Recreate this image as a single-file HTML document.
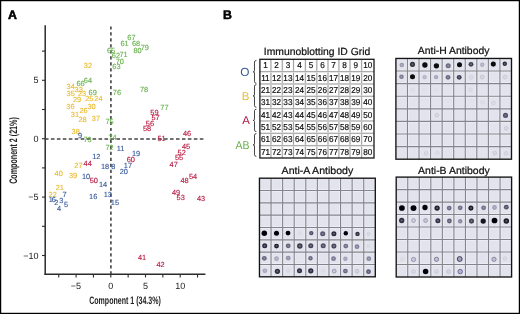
<!DOCTYPE html>
<html><head><meta charset="utf-8"><style>
html,body{margin:0;padding:0;background:#fff;}
body{width:520px;height:314px;overflow:hidden;}
svg{display:block;font-family:"Liberation Sans",sans-serif;will-change:transform;text-rendering:geometricPrecision;}
</style></head><body>
<svg width="520" height="314" viewBox="0 0 520 314">
<defs><filter id="soft" x="-5%" y="-5%" width="110%" height="110%"><feGaussianBlur stdDeviation="0.38"/></filter></defs>
<rect x="0" y="0" width="520" height="314" fill="#fff"/>
<line x1="45.2" y1="25.3" x2="45.2" y2="274.9" stroke="#2b2b2b" stroke-width="1.5"/>
<line x1="44.5" y1="274.2" x2="205.4" y2="274.2" stroke="#2b2b2b" stroke-width="1.5"/>
<line x1="42" y1="255.50" x2="45.2" y2="255.50" stroke="#2b2b2b" stroke-width="1.1"/>
<line x1="42" y1="226.30" x2="45.2" y2="226.30" stroke="#2b2b2b" stroke-width="1.1"/>
<line x1="42" y1="197.10" x2="45.2" y2="197.10" stroke="#2b2b2b" stroke-width="1.1"/>
<line x1="42" y1="167.90" x2="45.2" y2="167.90" stroke="#2b2b2b" stroke-width="1.1"/>
<line x1="42" y1="138.70" x2="45.2" y2="138.70" stroke="#2b2b2b" stroke-width="1.1"/>
<line x1="42" y1="109.50" x2="45.2" y2="109.50" stroke="#2b2b2b" stroke-width="1.1"/>
<line x1="42" y1="80.30" x2="45.2" y2="80.30" stroke="#2b2b2b" stroke-width="1.1"/>
<line x1="42" y1="51.10" x2="45.2" y2="51.10" stroke="#2b2b2b" stroke-width="1.1"/>
<line x1="58.75" y1="274.2" x2="58.75" y2="277.4" stroke="#2b2b2b" stroke-width="1.1"/>
<line x1="76.10" y1="274.2" x2="76.10" y2="277.4" stroke="#2b2b2b" stroke-width="1.1"/>
<line x1="93.45" y1="274.2" x2="93.45" y2="277.4" stroke="#2b2b2b" stroke-width="1.1"/>
<line x1="110.80" y1="274.2" x2="110.80" y2="277.4" stroke="#2b2b2b" stroke-width="1.1"/>
<line x1="128.15" y1="274.2" x2="128.15" y2="277.4" stroke="#2b2b2b" stroke-width="1.1"/>
<line x1="145.50" y1="274.2" x2="145.50" y2="277.4" stroke="#2b2b2b" stroke-width="1.1"/>
<line x1="162.85" y1="274.2" x2="162.85" y2="277.4" stroke="#2b2b2b" stroke-width="1.1"/>
<line x1="180.20" y1="274.2" x2="180.20" y2="277.4" stroke="#2b2b2b" stroke-width="1.1"/>
<line x1="197.55" y1="274.2" x2="197.55" y2="277.4" stroke="#2b2b2b" stroke-width="1.1"/>
<line x1="44.95" y1="139.05" x2="204" y2="139.05" stroke="#444" stroke-width="1.6" stroke-dasharray="3.6 2.355"/>
<line x1="110.9" y1="26.4" x2="110.9" y2="274" stroke="#444" stroke-width="1.6" stroke-dasharray="3.2 2.77"/>
<text x="38.6" y="83.3" font-size="9" fill="#222" text-anchor="end" >5</text>
<text x="38.6" y="141.5" font-size="9" fill="#222" text-anchor="end" >0</text>
<text x="38.6" y="200.3" font-size="9" fill="#222" text-anchor="end" >−5</text>
<text x="38.6" y="258.5" font-size="9" fill="#222" text-anchor="end" >−10</text>
<text x="75.8" y="288.5" font-size="9" fill="#222" text-anchor="middle" >−5</text>
<text x="110.8" y="288.5" font-size="9" fill="#222" text-anchor="middle" >0</text>
<text x="145.5" y="288.5" font-size="9" fill="#222" text-anchor="middle" >5</text>
<text x="180.2" y="288.5" font-size="9" fill="#222" text-anchor="middle" >10</text>
<text x="89.2" y="303.5" font-size="10.9" font-weight="bold" fill="#222" textLength="71.6" lengthAdjust="spacingAndGlyphs">Component 1 (34.3%)</text>
<text transform="translate(16.9,183.8) rotate(-90)" x="0" y="0" font-size="10.9" font-weight="bold" fill="#222" textLength="66.6" lengthAdjust="spacingAndGlyphs">Component 2 (21%)</text>
<text x="127.3" y="39.85" font-size="7.4" fill="#66b04a" stroke="#66b04a" stroke-width="0.12">67</text>
<text x="120.5" y="46.35" font-size="7.4" fill="#66b04a" stroke="#66b04a" stroke-width="0.12">61</text>
<text x="132.0" y="46.35" font-size="7.4" fill="#66b04a" stroke="#66b04a" stroke-width="0.12">68</text>
<text x="140.7" y="49.95" font-size="7.4" fill="#66b04a" stroke="#66b04a" stroke-width="0.12">79</text>
<text x="133.5" y="53.15" font-size="7.4" fill="#66b04a" stroke="#66b04a" stroke-width="0.12">80</text>
<text x="107.0" y="52.85" font-size="7.4" fill="#66b04a" stroke="#66b04a" stroke-width="0.12">65</text>
<text x="111.8" y="58.05" font-size="7.4" fill="#66b04a" stroke="#66b04a" stroke-width="0.12">62</text>
<text x="119.5" y="56.75" font-size="7.4" fill="#66b04a" stroke="#66b04a" stroke-width="0.12">71</text>
<text x="115.7" y="64.15" font-size="7.4" fill="#66b04a" stroke="#66b04a" stroke-width="0.12">70</text>
<text x="112.3" y="69.05" font-size="7.4" fill="#66b04a" stroke="#66b04a" stroke-width="0.12">63</text>
<text x="83.8" y="83.15" font-size="7.4" fill="#66b04a" stroke="#66b04a" stroke-width="0.12">64</text>
<text x="76.5" y="86.15" font-size="7.4" fill="#66b04a" stroke="#66b04a" stroke-width="0.12">66</text>
<text x="88.6" y="95.15" font-size="7.4" fill="#66b04a" stroke="#66b04a" stroke-width="0.12">69</text>
<text x="112.8" y="95.35" font-size="7.4" fill="#66b04a" stroke="#66b04a" stroke-width="0.12">76</text>
<text x="140.0" y="92.45" font-size="7.4" fill="#66b04a" stroke="#66b04a" stroke-width="0.12">78</text>
<text x="160.3" y="109.55" font-size="7.4" fill="#66b04a" stroke="#66b04a" stroke-width="0.12">77</text>
<text x="105.4" y="124.15" font-size="7.4" fill="#66b04a" stroke="#66b04a" stroke-width="0.12">75</text>
<text x="83.4" y="142.35" font-size="7.4" fill="#66b04a" stroke="#66b04a" stroke-width="0.12">73</text>
<text x="108.5" y="140.45" font-size="7.4" fill="#66b04a" stroke="#66b04a" stroke-width="0.12">74</text>
<text x="105.4" y="150.25" font-size="7.4" fill="#66b04a" stroke="#66b04a" stroke-width="0.12">72</text>
<text x="83.8" y="67.95" font-size="7.4" fill="#eaba2c" stroke="#eaba2c" stroke-width="0.12">32</text>
<text x="66.6" y="88.65" font-size="7.4" fill="#eaba2c" stroke="#eaba2c" stroke-width="0.12">34</text>
<text x="74.6" y="92.15" font-size="7.4" fill="#eaba2c" stroke="#eaba2c" stroke-width="0.12">33</text>
<text x="66.6" y="95.65" font-size="7.4" fill="#eaba2c" stroke="#eaba2c" stroke-width="0.12">35</text>
<text x="78.0" y="96.15" font-size="7.4" fill="#eaba2c" stroke="#eaba2c" stroke-width="0.12">23</text>
<text x="73.0" y="101.65" font-size="7.4" fill="#eaba2c" stroke="#eaba2c" stroke-width="0.12">29</text>
<text x="85.2" y="101.15" font-size="7.4" fill="#eaba2c" stroke="#eaba2c" stroke-width="0.12">25</text>
<text x="94.3" y="101.15" font-size="7.4" fill="#eaba2c" stroke="#eaba2c" stroke-width="0.12">24</text>
<text x="66.3" y="109.15" font-size="7.4" fill="#eaba2c" stroke="#eaba2c" stroke-width="0.12">36</text>
<text x="87.4" y="109.45" font-size="7.4" fill="#eaba2c" stroke="#eaba2c" stroke-width="0.12">30</text>
<text x="79.4" y="112.55" font-size="7.4" fill="#eaba2c" stroke="#eaba2c" stroke-width="0.12">26</text>
<text x="70.8" y="117.35" font-size="7.4" fill="#eaba2c" stroke="#eaba2c" stroke-width="0.12">31</text>
<text x="78.5" y="122.15" font-size="7.4" fill="#eaba2c" stroke="#eaba2c" stroke-width="0.12">28</text>
<text x="91.8" y="120.75" font-size="7.4" fill="#eaba2c" stroke="#eaba2c" stroke-width="0.12">37</text>
<text x="71.6" y="134.05" font-size="7.4" fill="#eaba2c" stroke="#eaba2c" stroke-width="0.12">38</text>
<text x="74.3" y="168.15" font-size="7.4" fill="#eaba2c" stroke="#eaba2c" stroke-width="0.12">27</text>
<text x="54.6" y="176.45" font-size="7.4" fill="#eaba2c" stroke="#eaba2c" stroke-width="0.12">40</text>
<text x="68.9" y="178.35" font-size="7.4" fill="#eaba2c" stroke="#eaba2c" stroke-width="0.12">39</text>
<text x="55.7" y="190.35" font-size="7.4" fill="#eaba2c" stroke="#eaba2c" stroke-width="0.12">21</text>
<text x="48.6" y="196.65" font-size="7.4" fill="#eaba2c" stroke="#eaba2c" stroke-width="0.12">22</text>
<text x="78.0" y="138.45" font-size="7.4" fill="#35589a" stroke="#35589a" stroke-width="0.12">9</text>
<text x="92.2" y="158.65" font-size="7.4" fill="#35589a" stroke="#35589a" stroke-width="0.12">12</text>
<text x="116.7" y="150.75" font-size="7.4" fill="#35589a" stroke="#35589a" stroke-width="0.12">11</text>
<text x="131.9" y="156.05" font-size="7.4" fill="#35589a" stroke="#35589a" stroke-width="0.12">19</text>
<text x="100.9" y="169.05" font-size="7.4" fill="#35589a" stroke="#35589a" stroke-width="0.12">18</text>
<text x="111.2" y="169.05" font-size="7.4" fill="#35589a" stroke="#35589a" stroke-width="0.12">8</text>
<text x="123.8" y="167.75" font-size="7.4" fill="#35589a" stroke="#35589a" stroke-width="0.12">17</text>
<text x="119.7" y="173.75" font-size="7.4" fill="#35589a" stroke="#35589a" stroke-width="0.12">20</text>
<text x="81.9" y="179.35" font-size="7.4" fill="#35589a" stroke="#35589a" stroke-width="0.12">10</text>
<text x="98.9" y="187.35" font-size="7.4" fill="#35589a" stroke="#35589a" stroke-width="0.12">14</text>
<text x="103.7" y="197.15" font-size="7.4" fill="#35589a" stroke="#35589a" stroke-width="0.12">13</text>
<text x="89.1" y="198.85" font-size="7.4" fill="#35589a" stroke="#35589a" stroke-width="0.12">16</text>
<text x="110.8" y="204.95" font-size="7.4" fill="#35589a" stroke="#35589a" stroke-width="0.12">15</text>
<text x="62.6" y="196.85" font-size="7.4" fill="#35589a" stroke="#35589a" stroke-width="0.12">7</text>
<text x="48.8" y="202.15" font-size="7.4" fill="#35589a" stroke="#35589a" stroke-width="0.12">1</text>
<text x="51.8" y="202.45" font-size="7.4" fill="#35589a" stroke="#35589a" stroke-width="0.12">6</text>
<text x="54.3" y="205.45" font-size="7.4" fill="#35589a" stroke="#35589a" stroke-width="0.12">2</text>
<text x="59.3" y="203.15" font-size="7.4" fill="#35589a" stroke="#35589a" stroke-width="0.12">3</text>
<text x="64.0" y="206.85" font-size="7.4" fill="#35589a" stroke="#35589a" stroke-width="0.12">5</text>
<text x="56.9" y="210.65" font-size="7.4" fill="#35589a" stroke="#35589a" stroke-width="0.12">4</text>
<text x="150.3" y="114.75" font-size="7.4" fill="#b5173f" stroke="#b5173f" stroke-width="0.12">59</text>
<text x="151.4" y="120.25" font-size="7.4" fill="#b5173f" stroke="#b5173f" stroke-width="0.12">57</text>
<text x="145.8" y="125.85" font-size="7.4" fill="#b5173f" stroke="#b5173f" stroke-width="0.12">56</text>
<text x="142.9" y="131.45" font-size="7.4" fill="#b5173f" stroke="#b5173f" stroke-width="0.12">58</text>
<text x="157.4" y="141.45" font-size="7.4" fill="#b5173f" stroke="#b5173f" stroke-width="0.12">51</text>
<text x="183.0" y="136.35" font-size="7.4" fill="#b5173f" stroke="#b5173f" stroke-width="0.12">46</text>
<text x="182.0" y="148.95" font-size="7.4" fill="#b5173f" stroke="#b5173f" stroke-width="0.12">45</text>
<text x="177.6" y="154.55" font-size="7.4" fill="#b5173f" stroke="#b5173f" stroke-width="0.12">52</text>
<text x="175.0" y="160.45" font-size="7.4" fill="#b5173f" stroke="#b5173f" stroke-width="0.12">55</text>
<text x="169.6" y="167.45" font-size="7.4" fill="#b5173f" stroke="#b5173f" stroke-width="0.12">47</text>
<text x="126.7" y="162.15" font-size="7.4" fill="#b5173f" stroke="#b5173f" stroke-width="0.12">60</text>
<text x="83.6" y="165.55" font-size="7.4" fill="#b5173f" stroke="#b5173f" stroke-width="0.12">44</text>
<text x="89.7" y="183.25" font-size="7.4" fill="#b5173f" stroke="#b5173f" stroke-width="0.12">50</text>
<text x="180.5" y="183.15" font-size="7.4" fill="#b5173f" stroke="#b5173f" stroke-width="0.12">48</text>
<text x="189.0" y="179.25" font-size="7.4" fill="#b5173f" stroke="#b5173f" stroke-width="0.12">54</text>
<text x="171.9" y="194.55" font-size="7.4" fill="#b5173f" stroke="#b5173f" stroke-width="0.12">49</text>
<text x="176.6" y="199.75" font-size="7.4" fill="#b5173f" stroke="#b5173f" stroke-width="0.12">53</text>
<text x="196.9" y="201.25" font-size="7.4" fill="#b5173f" stroke="#b5173f" stroke-width="0.12">43</text>
<text x="137.9" y="259.95" font-size="7.4" fill="#b5173f" stroke="#b5173f" stroke-width="0.12">41</text>
<text x="156.5" y="266.65" font-size="7.4" fill="#b5173f" stroke="#b5173f" stroke-width="0.12">42</text>
<text x="7.9" y="18.7" font-size="12.3" font-weight="bold" fill="#000" stroke="#000" stroke-width="0.55">A</text>
<text x="223.1" y="18.7" font-size="12.3" font-weight="bold" fill="#000" stroke="#000" stroke-width="0.55">B</text>
<rect x="259.9" y="59.3" width="114.10000000000002" height="98.7" fill="#fff"/>
<line x1="270.95" y1="59.3" x2="270.95" y2="158.0" stroke="#ececec" stroke-width="2.0"/>
<line x1="270.95" y1="59.3" x2="270.95" y2="158.0" stroke="#a2a2a2" stroke-width="1"/>
<line x1="282.30" y1="59.3" x2="282.30" y2="158.0" stroke="#ececec" stroke-width="2.0"/>
<line x1="282.30" y1="59.3" x2="282.30" y2="158.0" stroke="#a2a2a2" stroke-width="1"/>
<line x1="293.50" y1="59.3" x2="293.50" y2="158.0" stroke="#ececec" stroke-width="2.0"/>
<line x1="293.50" y1="59.3" x2="293.50" y2="158.0" stroke="#a2a2a2" stroke-width="1"/>
<line x1="305.40" y1="59.3" x2="305.40" y2="158.0" stroke="#ececec" stroke-width="2.0"/>
<line x1="305.40" y1="59.3" x2="305.40" y2="158.0" stroke="#a2a2a2" stroke-width="1"/>
<line x1="316.80" y1="59.3" x2="316.80" y2="158.0" stroke="#ececec" stroke-width="2.0"/>
<line x1="316.80" y1="59.3" x2="316.80" y2="158.0" stroke="#a2a2a2" stroke-width="1"/>
<line x1="328.00" y1="59.3" x2="328.00" y2="158.0" stroke="#ececec" stroke-width="2.0"/>
<line x1="328.00" y1="59.3" x2="328.00" y2="158.0" stroke="#a2a2a2" stroke-width="1"/>
<line x1="338.90" y1="59.3" x2="338.90" y2="158.0" stroke="#ececec" stroke-width="2.0"/>
<line x1="338.90" y1="59.3" x2="338.90" y2="158.0" stroke="#a2a2a2" stroke-width="1"/>
<line x1="350.00" y1="59.3" x2="350.00" y2="158.0" stroke="#ececec" stroke-width="2.0"/>
<line x1="350.00" y1="59.3" x2="350.00" y2="158.0" stroke="#a2a2a2" stroke-width="1"/>
<line x1="361.60" y1="59.3" x2="361.60" y2="158.0" stroke="#ececec" stroke-width="2.0"/>
<line x1="361.60" y1="59.3" x2="361.60" y2="158.0" stroke="#a2a2a2" stroke-width="1"/>
<line x1="259.9" y1="71.64" x2="374.0" y2="71.64" stroke="#ececec" stroke-width="2.0"/>
<line x1="259.9" y1="71.64" x2="374.0" y2="71.64" stroke="#a2a2a2" stroke-width="1"/>
<line x1="259.9" y1="83.97" x2="374.0" y2="83.97" stroke="#ececec" stroke-width="2.0"/>
<line x1="259.9" y1="83.97" x2="374.0" y2="83.97" stroke="#a2a2a2" stroke-width="1"/>
<line x1="259.9" y1="96.31" x2="374.0" y2="96.31" stroke="#ececec" stroke-width="2.0"/>
<line x1="259.9" y1="96.31" x2="374.0" y2="96.31" stroke="#a2a2a2" stroke-width="1"/>
<line x1="259.9" y1="108.65" x2="374.0" y2="108.65" stroke="#ececec" stroke-width="2.0"/>
<line x1="259.9" y1="108.65" x2="374.0" y2="108.65" stroke="#a2a2a2" stroke-width="1"/>
<line x1="259.9" y1="120.99" x2="374.0" y2="120.99" stroke="#ececec" stroke-width="2.0"/>
<line x1="259.9" y1="120.99" x2="374.0" y2="120.99" stroke="#a2a2a2" stroke-width="1"/>
<line x1="259.9" y1="133.32" x2="374.0" y2="133.32" stroke="#ececec" stroke-width="2.0"/>
<line x1="259.9" y1="133.32" x2="374.0" y2="133.32" stroke="#a2a2a2" stroke-width="1"/>
<line x1="259.9" y1="145.66" x2="374.0" y2="145.66" stroke="#ececec" stroke-width="2.0"/>
<line x1="259.9" y1="145.66" x2="374.0" y2="145.66" stroke="#a2a2a2" stroke-width="1"/>
<rect x="259.9" y="59.3" width="114.10000000000002" height="98.7" fill="none" stroke="#1a1a1a" stroke-width="1.3"/>
<text transform="translate(265.42,68.17) scale(0.95,1)" font-size="8.6" fill="#111" stroke="#111" stroke-width="0.2" text-anchor="middle">1</text>
<text transform="translate(276.62,68.17) scale(0.95,1)" font-size="8.6" fill="#111" stroke="#111" stroke-width="0.2" text-anchor="middle">2</text>
<text transform="translate(287.90,68.17) scale(0.95,1)" font-size="8.6" fill="#111" stroke="#111" stroke-width="0.2" text-anchor="middle">3</text>
<text transform="translate(299.45,68.17) scale(0.95,1)" font-size="8.6" fill="#111" stroke="#111" stroke-width="0.2" text-anchor="middle">4</text>
<text transform="translate(311.10,68.17) scale(0.95,1)" font-size="8.6" fill="#111" stroke="#111" stroke-width="0.2" text-anchor="middle">5</text>
<text transform="translate(322.40,68.17) scale(0.95,1)" font-size="8.6" fill="#111" stroke="#111" stroke-width="0.2" text-anchor="middle">6</text>
<text transform="translate(333.45,68.17) scale(0.95,1)" font-size="8.6" fill="#111" stroke="#111" stroke-width="0.2" text-anchor="middle">7</text>
<text transform="translate(344.45,68.17) scale(0.95,1)" font-size="8.6" fill="#111" stroke="#111" stroke-width="0.2" text-anchor="middle">8</text>
<text transform="translate(355.80,68.17) scale(0.95,1)" font-size="8.6" fill="#111" stroke="#111" stroke-width="0.2" text-anchor="middle">9</text>
<text transform="translate(367.80,68.17) scale(0.95,1)" font-size="8.6" fill="#111" stroke="#111" stroke-width="0.2" text-anchor="middle">10</text>
<text transform="translate(265.42,80.51) scale(0.95,1)" font-size="8.6" fill="#111" stroke="#111" stroke-width="0.2" text-anchor="middle">11</text>
<text transform="translate(276.62,80.51) scale(0.95,1)" font-size="8.6" fill="#111" stroke="#111" stroke-width="0.2" text-anchor="middle">12</text>
<text transform="translate(287.90,80.51) scale(0.95,1)" font-size="8.6" fill="#111" stroke="#111" stroke-width="0.2" text-anchor="middle">13</text>
<text transform="translate(299.45,80.51) scale(0.95,1)" font-size="8.6" fill="#111" stroke="#111" stroke-width="0.2" text-anchor="middle">14</text>
<text transform="translate(311.10,80.51) scale(0.95,1)" font-size="8.6" fill="#111" stroke="#111" stroke-width="0.2" text-anchor="middle">15</text>
<text transform="translate(322.40,80.51) scale(0.95,1)" font-size="8.6" fill="#111" stroke="#111" stroke-width="0.2" text-anchor="middle">16</text>
<text transform="translate(333.45,80.51) scale(0.95,1)" font-size="8.6" fill="#111" stroke="#111" stroke-width="0.2" text-anchor="middle">17</text>
<text transform="translate(344.45,80.51) scale(0.95,1)" font-size="8.6" fill="#111" stroke="#111" stroke-width="0.2" text-anchor="middle">18</text>
<text transform="translate(355.80,80.51) scale(0.95,1)" font-size="8.6" fill="#111" stroke="#111" stroke-width="0.2" text-anchor="middle">19</text>
<text transform="translate(367.80,80.51) scale(0.95,1)" font-size="8.6" fill="#111" stroke="#111" stroke-width="0.2" text-anchor="middle">20</text>
<text transform="translate(265.42,92.84) scale(0.95,1)" font-size="8.6" fill="#111" stroke="#111" stroke-width="0.2" text-anchor="middle">21</text>
<text transform="translate(276.62,92.84) scale(0.95,1)" font-size="8.6" fill="#111" stroke="#111" stroke-width="0.2" text-anchor="middle">22</text>
<text transform="translate(287.90,92.84) scale(0.95,1)" font-size="8.6" fill="#111" stroke="#111" stroke-width="0.2" text-anchor="middle">23</text>
<text transform="translate(299.45,92.84) scale(0.95,1)" font-size="8.6" fill="#111" stroke="#111" stroke-width="0.2" text-anchor="middle">24</text>
<text transform="translate(311.10,92.84) scale(0.95,1)" font-size="8.6" fill="#111" stroke="#111" stroke-width="0.2" text-anchor="middle">25</text>
<text transform="translate(322.40,92.84) scale(0.95,1)" font-size="8.6" fill="#111" stroke="#111" stroke-width="0.2" text-anchor="middle">26</text>
<text transform="translate(333.45,92.84) scale(0.95,1)" font-size="8.6" fill="#111" stroke="#111" stroke-width="0.2" text-anchor="middle">27</text>
<text transform="translate(344.45,92.84) scale(0.95,1)" font-size="8.6" fill="#111" stroke="#111" stroke-width="0.2" text-anchor="middle">28</text>
<text transform="translate(355.80,92.84) scale(0.95,1)" font-size="8.6" fill="#111" stroke="#111" stroke-width="0.2" text-anchor="middle">29</text>
<text transform="translate(367.80,92.84) scale(0.95,1)" font-size="8.6" fill="#111" stroke="#111" stroke-width="0.2" text-anchor="middle">30</text>
<text transform="translate(265.42,105.18) scale(0.95,1)" font-size="8.6" fill="#111" stroke="#111" stroke-width="0.2" text-anchor="middle">31</text>
<text transform="translate(276.62,105.18) scale(0.95,1)" font-size="8.6" fill="#111" stroke="#111" stroke-width="0.2" text-anchor="middle">32</text>
<text transform="translate(287.90,105.18) scale(0.95,1)" font-size="8.6" fill="#111" stroke="#111" stroke-width="0.2" text-anchor="middle">33</text>
<text transform="translate(299.45,105.18) scale(0.95,1)" font-size="8.6" fill="#111" stroke="#111" stroke-width="0.2" text-anchor="middle">34</text>
<text transform="translate(311.10,105.18) scale(0.95,1)" font-size="8.6" fill="#111" stroke="#111" stroke-width="0.2" text-anchor="middle">35</text>
<text transform="translate(322.40,105.18) scale(0.95,1)" font-size="8.6" fill="#111" stroke="#111" stroke-width="0.2" text-anchor="middle">36</text>
<text transform="translate(333.45,105.18) scale(0.95,1)" font-size="8.6" fill="#111" stroke="#111" stroke-width="0.2" text-anchor="middle">37</text>
<text transform="translate(344.45,105.18) scale(0.95,1)" font-size="8.6" fill="#111" stroke="#111" stroke-width="0.2" text-anchor="middle">38</text>
<text transform="translate(355.80,105.18) scale(0.95,1)" font-size="8.6" fill="#111" stroke="#111" stroke-width="0.2" text-anchor="middle">39</text>
<text transform="translate(367.80,105.18) scale(0.95,1)" font-size="8.6" fill="#111" stroke="#111" stroke-width="0.2" text-anchor="middle">40</text>
<text transform="translate(265.42,117.52) scale(0.95,1)" font-size="8.6" fill="#111" stroke="#111" stroke-width="0.2" text-anchor="middle">41</text>
<text transform="translate(276.62,117.52) scale(0.95,1)" font-size="8.6" fill="#111" stroke="#111" stroke-width="0.2" text-anchor="middle">42</text>
<text transform="translate(287.90,117.52) scale(0.95,1)" font-size="8.6" fill="#111" stroke="#111" stroke-width="0.2" text-anchor="middle">43</text>
<text transform="translate(299.45,117.52) scale(0.95,1)" font-size="8.6" fill="#111" stroke="#111" stroke-width="0.2" text-anchor="middle">44</text>
<text transform="translate(311.10,117.52) scale(0.95,1)" font-size="8.6" fill="#111" stroke="#111" stroke-width="0.2" text-anchor="middle">45</text>
<text transform="translate(322.40,117.52) scale(0.95,1)" font-size="8.6" fill="#111" stroke="#111" stroke-width="0.2" text-anchor="middle">46</text>
<text transform="translate(333.45,117.52) scale(0.95,1)" font-size="8.6" fill="#111" stroke="#111" stroke-width="0.2" text-anchor="middle">47</text>
<text transform="translate(344.45,117.52) scale(0.95,1)" font-size="8.6" fill="#111" stroke="#111" stroke-width="0.2" text-anchor="middle">48</text>
<text transform="translate(355.80,117.52) scale(0.95,1)" font-size="8.6" fill="#111" stroke="#111" stroke-width="0.2" text-anchor="middle">49</text>
<text transform="translate(367.80,117.52) scale(0.95,1)" font-size="8.6" fill="#111" stroke="#111" stroke-width="0.2" text-anchor="middle">50</text>
<text transform="translate(265.42,129.86) scale(0.95,1)" font-size="8.6" fill="#111" stroke="#111" stroke-width="0.2" text-anchor="middle">51</text>
<text transform="translate(276.62,129.86) scale(0.95,1)" font-size="8.6" fill="#111" stroke="#111" stroke-width="0.2" text-anchor="middle">52</text>
<text transform="translate(287.90,129.86) scale(0.95,1)" font-size="8.6" fill="#111" stroke="#111" stroke-width="0.2" text-anchor="middle">53</text>
<text transform="translate(299.45,129.86) scale(0.95,1)" font-size="8.6" fill="#111" stroke="#111" stroke-width="0.2" text-anchor="middle">54</text>
<text transform="translate(311.10,129.86) scale(0.95,1)" font-size="8.6" fill="#111" stroke="#111" stroke-width="0.2" text-anchor="middle">55</text>
<text transform="translate(322.40,129.86) scale(0.95,1)" font-size="8.6" fill="#111" stroke="#111" stroke-width="0.2" text-anchor="middle">56</text>
<text transform="translate(333.45,129.86) scale(0.95,1)" font-size="8.6" fill="#111" stroke="#111" stroke-width="0.2" text-anchor="middle">57</text>
<text transform="translate(344.45,129.86) scale(0.95,1)" font-size="8.6" fill="#111" stroke="#111" stroke-width="0.2" text-anchor="middle">58</text>
<text transform="translate(355.80,129.86) scale(0.95,1)" font-size="8.6" fill="#111" stroke="#111" stroke-width="0.2" text-anchor="middle">59</text>
<text transform="translate(367.80,129.86) scale(0.95,1)" font-size="8.6" fill="#111" stroke="#111" stroke-width="0.2" text-anchor="middle">60</text>
<text transform="translate(265.42,142.19) scale(0.95,1)" font-size="8.6" fill="#111" stroke="#111" stroke-width="0.2" text-anchor="middle">61</text>
<text transform="translate(276.62,142.19) scale(0.95,1)" font-size="8.6" fill="#111" stroke="#111" stroke-width="0.2" text-anchor="middle">62</text>
<text transform="translate(287.90,142.19) scale(0.95,1)" font-size="8.6" fill="#111" stroke="#111" stroke-width="0.2" text-anchor="middle">63</text>
<text transform="translate(299.45,142.19) scale(0.95,1)" font-size="8.6" fill="#111" stroke="#111" stroke-width="0.2" text-anchor="middle">64</text>
<text transform="translate(311.10,142.19) scale(0.95,1)" font-size="8.6" fill="#111" stroke="#111" stroke-width="0.2" text-anchor="middle">65</text>
<text transform="translate(322.40,142.19) scale(0.95,1)" font-size="8.6" fill="#111" stroke="#111" stroke-width="0.2" text-anchor="middle">66</text>
<text transform="translate(333.45,142.19) scale(0.95,1)" font-size="8.6" fill="#111" stroke="#111" stroke-width="0.2" text-anchor="middle">67</text>
<text transform="translate(344.45,142.19) scale(0.95,1)" font-size="8.6" fill="#111" stroke="#111" stroke-width="0.2" text-anchor="middle">68</text>
<text transform="translate(355.80,142.19) scale(0.95,1)" font-size="8.6" fill="#111" stroke="#111" stroke-width="0.2" text-anchor="middle">69</text>
<text transform="translate(367.80,142.19) scale(0.95,1)" font-size="8.6" fill="#111" stroke="#111" stroke-width="0.2" text-anchor="middle">70</text>
<text transform="translate(265.42,154.53) scale(0.95,1)" font-size="8.6" fill="#111" stroke="#111" stroke-width="0.2" text-anchor="middle">71</text>
<text transform="translate(276.62,154.53) scale(0.95,1)" font-size="8.6" fill="#111" stroke="#111" stroke-width="0.2" text-anchor="middle">72</text>
<text transform="translate(287.90,154.53) scale(0.95,1)" font-size="8.6" fill="#111" stroke="#111" stroke-width="0.2" text-anchor="middle">73</text>
<text transform="translate(299.45,154.53) scale(0.95,1)" font-size="8.6" fill="#111" stroke="#111" stroke-width="0.2" text-anchor="middle">74</text>
<text transform="translate(311.10,154.53) scale(0.95,1)" font-size="8.6" fill="#111" stroke="#111" stroke-width="0.2" text-anchor="middle">75</text>
<text transform="translate(322.40,154.53) scale(0.95,1)" font-size="8.6" fill="#111" stroke="#111" stroke-width="0.2" text-anchor="middle">76</text>
<text transform="translate(333.45,154.53) scale(0.95,1)" font-size="8.6" fill="#111" stroke="#111" stroke-width="0.2" text-anchor="middle">77</text>
<text transform="translate(344.45,154.53) scale(0.95,1)" font-size="8.6" fill="#111" stroke="#111" stroke-width="0.2" text-anchor="middle">78</text>
<text transform="translate(355.80,154.53) scale(0.95,1)" font-size="8.6" fill="#111" stroke="#111" stroke-width="0.2" text-anchor="middle">79</text>
<text transform="translate(367.80,154.53) scale(0.95,1)" font-size="8.6" fill="#111" stroke="#111" stroke-width="0.2" text-anchor="middle">80</text>
<text x="317" y="54.6" font-size="10.4" fill="#111" text-anchor="middle" textLength="106.4" lengthAdjust="spacingAndGlyphs" stroke="#111" stroke-width="0.22">Immunoblotting ID Grid</text>
<text x="249.4" y="75.8" font-size="11.8" fill="#35589a" text-anchor="end">O</text>
<text x="249.4" y="99.7" font-size="11.4" fill="#eaba2c" text-anchor="end">B</text>
<text x="249.9" y="124.3" font-size="11.4" fill="#b5173f" text-anchor="end">A</text>
<text x="249.6" y="148.9" font-size="11.4" fill="#66b04a" text-anchor="end" textLength="14" lengthAdjust="spacingAndGlyphs">AB</text>
<path d="M256.4 60.5 Q254.5 60.5 254.5 62.0 L254.5 70.85 Q254.5 71.85 253 71.85 Q254.5 71.85 254.5 72.85 L254.5 81.7 Q254.5 83.2 256.4 83.2" fill="none" stroke="#333" stroke-width="0.9"/>
<path d="M256.4 84.6 Q254.5 84.6 254.5 86.1 L254.5 94.9 Q254.5 95.9 253 95.9 Q254.5 95.9 254.5 96.9 L254.5 105.7 Q254.5 107.2 256.4 107.2" fill="none" stroke="#333" stroke-width="0.9"/>
<path d="M256.4 109.2 Q254.5 109.2 254.5 110.7 L254.5 119.4 Q254.5 120.4 253 120.4 Q254.5 120.4 254.5 121.4 L254.5 130.1 Q254.5 131.6 256.4 131.6" fill="none" stroke="#333" stroke-width="0.9"/>
<path d="M256.4 133.6 Q254.5 133.6 254.5 135.1 L254.5 143.95 Q254.5 144.95 253 144.95 Q254.5 144.95 254.5 145.95 L254.5 154.8 Q254.5 156.3 256.4 156.3" fill="none" stroke="#333" stroke-width="0.9"/>
<rect x="395.9" y="58.45" width="115.60000000000002" height="100.74999999999999" fill="#e3e3ed"/>
<line x1="407.46" y1="58.45" x2="407.46" y2="159.2" stroke="#ececf4" stroke-width="2.8"/>
<line x1="419.02" y1="58.45" x2="419.02" y2="159.2" stroke="#ececf4" stroke-width="2.8"/>
<line x1="430.58" y1="58.45" x2="430.58" y2="159.2" stroke="#ececf4" stroke-width="2.8"/>
<line x1="442.14" y1="58.45" x2="442.14" y2="159.2" stroke="#ececf4" stroke-width="2.8"/>
<line x1="453.70" y1="58.45" x2="453.70" y2="159.2" stroke="#ececf4" stroke-width="2.8"/>
<line x1="465.26" y1="58.45" x2="465.26" y2="159.2" stroke="#ececf4" stroke-width="2.8"/>
<line x1="476.82" y1="58.45" x2="476.82" y2="159.2" stroke="#ececf4" stroke-width="2.8"/>
<line x1="488.38" y1="58.45" x2="488.38" y2="159.2" stroke="#ececf4" stroke-width="2.8"/>
<line x1="499.94" y1="58.45" x2="499.94" y2="159.2" stroke="#ececf4" stroke-width="2.8"/>
<line x1="395.9" y1="71.04" x2="511.5" y2="71.04" stroke="#ececf4" stroke-width="2.8"/>
<line x1="395.9" y1="83.64" x2="511.5" y2="83.64" stroke="#ececf4" stroke-width="2.8"/>
<line x1="395.9" y1="96.23" x2="511.5" y2="96.23" stroke="#ececf4" stroke-width="2.8"/>
<line x1="395.9" y1="108.82" x2="511.5" y2="108.82" stroke="#ececf4" stroke-width="2.8"/>
<line x1="395.9" y1="121.42" x2="511.5" y2="121.42" stroke="#ececf4" stroke-width="2.8"/>
<line x1="395.9" y1="134.01" x2="511.5" y2="134.01" stroke="#ececf4" stroke-width="2.8"/>
<line x1="395.9" y1="146.61" x2="511.5" y2="146.61" stroke="#ececf4" stroke-width="2.8"/>
<line x1="407.46" y1="58.45" x2="407.46" y2="159.2" stroke="#84848c" stroke-width="1.12"/>
<line x1="419.02" y1="58.45" x2="419.02" y2="159.2" stroke="#84848c" stroke-width="1.12"/>
<line x1="430.58" y1="58.45" x2="430.58" y2="159.2" stroke="#84848c" stroke-width="1.12"/>
<line x1="442.14" y1="58.45" x2="442.14" y2="159.2" stroke="#84848c" stroke-width="1.12"/>
<line x1="453.70" y1="58.45" x2="453.70" y2="159.2" stroke="#84848c" stroke-width="1.12"/>
<line x1="465.26" y1="58.45" x2="465.26" y2="159.2" stroke="#84848c" stroke-width="1.12"/>
<line x1="476.82" y1="58.45" x2="476.82" y2="159.2" stroke="#84848c" stroke-width="1.12"/>
<line x1="488.38" y1="58.45" x2="488.38" y2="159.2" stroke="#84848c" stroke-width="1.12"/>
<line x1="499.94" y1="58.45" x2="499.94" y2="159.2" stroke="#84848c" stroke-width="1.12"/>
<line x1="395.9" y1="71.04" x2="511.5" y2="71.04" stroke="#84848c" stroke-width="1.12"/>
<line x1="395.9" y1="83.64" x2="511.5" y2="83.64" stroke="#84848c" stroke-width="1.12"/>
<line x1="395.9" y1="96.23" x2="511.5" y2="96.23" stroke="#84848c" stroke-width="1.12"/>
<line x1="395.9" y1="108.82" x2="511.5" y2="108.82" stroke="#84848c" stroke-width="1.12"/>
<line x1="395.9" y1="121.42" x2="511.5" y2="121.42" stroke="#84848c" stroke-width="1.12"/>
<line x1="395.9" y1="134.01" x2="511.5" y2="134.01" stroke="#84848c" stroke-width="1.12"/>
<line x1="395.9" y1="146.61" x2="511.5" y2="146.61" stroke="#84848c" stroke-width="1.12"/>
<g filter="url(#soft)">
<circle cx="401.8" cy="65" r="2.3100000000000005" fill="#9a9aac"/>
<circle cx="401.8" cy="65" r="0.97" fill="#b0b0c0"/>
<circle cx="412.5" cy="64.4" r="2.53" fill="#2e2e38"/>
<circle cx="412.5" cy="64.4" r="1.06" fill="#64646e"/>
<circle cx="424.9" cy="65" r="2.64" fill="#0a0a10"/>
<circle cx="436.4" cy="65.8" r="2.64" fill="#08080c"/>
<circle cx="448.2" cy="65.8" r="2.53" fill="#6c6c80"/>
<circle cx="448.2" cy="65.8" r="1.06" fill="#9090a1"/>
<circle cx="459.5" cy="64.7" r="2.53" fill="#0a0a10"/>
<circle cx="471" cy="64.3" r="2.4200000000000004" fill="#3c3c4c"/>
<circle cx="471" cy="64.3" r="1.02" fill="#6e6e7c"/>
<circle cx="482.2" cy="64.7" r="2.2" fill="#b0b0c2"/>
<circle cx="482.2" cy="64.7" r="0.92" fill="#bfbfcf"/>
<circle cx="493.3" cy="64.1" r="2.53" fill="#0a0a10"/>
<circle cx="504.8" cy="63.8" r="2.2" fill="#2c2c3c"/>
<circle cx="504.8" cy="63.8" r="0.92" fill="#636371"/>
<circle cx="401.5" cy="76.8" r="2.3100000000000005" fill="#7c7c90"/>
<circle cx="401.5" cy="76.8" r="0.97" fill="#9b9bac"/>
<circle cx="412.5" cy="76.8" r="2.53" fill="#08080c"/>
<circle cx="424.6" cy="77.1" r="2.2" fill="#b4b4c6"/>
<circle cx="424.6" cy="77.1" r="0.92" fill="#c2c2d2"/>
<circle cx="436.1" cy="77.1" r="2.2" fill="#a4a4b8"/>
<circle cx="436.1" cy="77.1" r="0.92" fill="#b7b7c8"/>
<circle cx="448" cy="77.3" r="2.4200000000000004" fill="#6a6a80"/>
<circle cx="448" cy="77.3" r="1.02" fill="#8e8ea1"/>
<circle cx="459.2" cy="77.3" r="2.4200000000000004" fill="#3c3c4e"/>
<circle cx="459.2" cy="77.3" r="1.02" fill="#6e6e7e"/>
<circle cx="471" cy="77.3" r="1.90" fill="#dcdce7" stroke="#d2d2de" stroke-width="0.95"/>
<circle cx="482.2" cy="77.1" r="1.90" fill="#d7d7e2" stroke="#c4c4d2" stroke-width="0.95"/>
<circle cx="505" cy="77.1" r="1.90" fill="#d9d9e5" stroke="#cacad8" stroke-width="0.95"/>
<circle cx="470.5" cy="89.9" r="1.90" fill="#dedee9" stroke="#d6d6e2" stroke-width="0.95"/>
<circle cx="412.8" cy="89.9" r="1.90" fill="#e0e0ea" stroke="#dcdce6" stroke-width="0.95"/>
<circle cx="424.4" cy="90.2" r="1.90" fill="#e1e1eb" stroke="#dedee8" stroke-width="0.95"/>
<circle cx="436" cy="90" r="1.90" fill="#e1e1eb" stroke="#dedee8" stroke-width="0.95"/>
<circle cx="482.6" cy="102.4" r="1.90" fill="#dfdfe9" stroke="#d8d8e4" stroke-width="0.95"/>
<circle cx="493.4" cy="103" r="1.90" fill="#dbdbe6" stroke="#d0d0dc" stroke-width="0.95"/>
<circle cx="436.8" cy="115.2" r="1.90" fill="#d8d8e4" stroke="#c8c8d6" stroke-width="0.95"/>
<circle cx="505.5" cy="115.4" r="2.53" fill="#4c4c66"/>
<circle cx="505.5" cy="115.4" r="1.06" fill="#79798e"/>
<circle cx="506.1" cy="128.4" r="1.90" fill="#d8d8e5" stroke="#c8c8d8" stroke-width="0.95"/>
<circle cx="426.1" cy="153.4" r="1.90" fill="#dbdbe6" stroke="#d0d0dc" stroke-width="0.95"/>
<circle cx="437.4" cy="153" r="1.90" fill="#dedee9" stroke="#d6d6e2" stroke-width="0.95"/>
<circle cx="494.8" cy="153" r="1.90" fill="#d8d8e5" stroke="#c8c8d8" stroke-width="0.95"/>
<circle cx="506.1" cy="153.4" r="1.90" fill="#dadae5" stroke="#ccccda" stroke-width="0.95"/>
</g>
<rect x="395.9" y="58.45" width="115.60000000000002" height="100.74999999999999" fill="none" stroke="#141414" stroke-width="1.35"/>
<text x="417.8" y="54.35" font-size="10.3" fill="#111" text-anchor="start" textLength="71.6" lengthAdjust="spacingAndGlyphs" stroke="#111" stroke-width="0.22">Anti-H Antibody</text>
<rect x="259.45" y="178.2" width="115.85000000000002" height="98.60000000000002" fill="#e3e3ed"/>
<line x1="271.03" y1="178.2" x2="271.03" y2="276.8" stroke="#ececf4" stroke-width="2.8"/>
<line x1="282.62" y1="178.2" x2="282.62" y2="276.8" stroke="#ececf4" stroke-width="2.8"/>
<line x1="294.20" y1="178.2" x2="294.20" y2="276.8" stroke="#ececf4" stroke-width="2.8"/>
<line x1="305.79" y1="178.2" x2="305.79" y2="276.8" stroke="#ececf4" stroke-width="2.8"/>
<line x1="317.38" y1="178.2" x2="317.38" y2="276.8" stroke="#ececf4" stroke-width="2.8"/>
<line x1="328.96" y1="178.2" x2="328.96" y2="276.8" stroke="#ececf4" stroke-width="2.8"/>
<line x1="340.55" y1="178.2" x2="340.55" y2="276.8" stroke="#ececf4" stroke-width="2.8"/>
<line x1="352.13" y1="178.2" x2="352.13" y2="276.8" stroke="#ececf4" stroke-width="2.8"/>
<line x1="363.72" y1="178.2" x2="363.72" y2="276.8" stroke="#ececf4" stroke-width="2.8"/>
<line x1="259.45" y1="190.52" x2="375.3" y2="190.52" stroke="#ececf4" stroke-width="2.8"/>
<line x1="259.45" y1="202.85" x2="375.3" y2="202.85" stroke="#ececf4" stroke-width="2.8"/>
<line x1="259.45" y1="215.18" x2="375.3" y2="215.18" stroke="#ececf4" stroke-width="2.8"/>
<line x1="259.45" y1="227.50" x2="375.3" y2="227.50" stroke="#ececf4" stroke-width="2.8"/>
<line x1="259.45" y1="239.82" x2="375.3" y2="239.82" stroke="#ececf4" stroke-width="2.8"/>
<line x1="259.45" y1="252.15" x2="375.3" y2="252.15" stroke="#ececf4" stroke-width="2.8"/>
<line x1="259.45" y1="264.48" x2="375.3" y2="264.48" stroke="#ececf4" stroke-width="2.8"/>
<line x1="271.03" y1="178.2" x2="271.03" y2="276.8" stroke="#84848c" stroke-width="1.12"/>
<line x1="282.62" y1="178.2" x2="282.62" y2="276.8" stroke="#84848c" stroke-width="1.12"/>
<line x1="294.20" y1="178.2" x2="294.20" y2="276.8" stroke="#84848c" stroke-width="1.12"/>
<line x1="305.79" y1="178.2" x2="305.79" y2="276.8" stroke="#84848c" stroke-width="1.12"/>
<line x1="317.38" y1="178.2" x2="317.38" y2="276.8" stroke="#84848c" stroke-width="1.12"/>
<line x1="328.96" y1="178.2" x2="328.96" y2="276.8" stroke="#84848c" stroke-width="1.12"/>
<line x1="340.55" y1="178.2" x2="340.55" y2="276.8" stroke="#84848c" stroke-width="1.12"/>
<line x1="352.13" y1="178.2" x2="352.13" y2="276.8" stroke="#84848c" stroke-width="1.12"/>
<line x1="363.72" y1="178.2" x2="363.72" y2="276.8" stroke="#84848c" stroke-width="1.12"/>
<line x1="259.45" y1="190.52" x2="375.3" y2="190.52" stroke="#84848c" stroke-width="1.12"/>
<line x1="259.45" y1="202.85" x2="375.3" y2="202.85" stroke="#84848c" stroke-width="1.12"/>
<line x1="259.45" y1="215.18" x2="375.3" y2="215.18" stroke="#84848c" stroke-width="1.12"/>
<line x1="259.45" y1="227.50" x2="375.3" y2="227.50" stroke="#84848c" stroke-width="1.12"/>
<line x1="259.45" y1="239.82" x2="375.3" y2="239.82" stroke="#84848c" stroke-width="1.12"/>
<line x1="259.45" y1="252.15" x2="375.3" y2="252.15" stroke="#84848c" stroke-width="1.12"/>
<line x1="259.45" y1="264.48" x2="375.3" y2="264.48" stroke="#84848c" stroke-width="1.12"/>
<g filter="url(#soft)">
<circle cx="264.3" cy="233.3" r="2.75" fill="#060608"/>
<circle cx="276.5" cy="233.3" r="2.53" fill="#060608"/>
<circle cx="288" cy="233.1" r="2.4200000000000004" fill="#060608"/>
<circle cx="300.1" cy="233.3" r="2.2" fill="#dcdce6"/>
<circle cx="300.1" cy="233.3" r="0.92" fill="#dedee8"/>
<circle cx="311.3" cy="233.1" r="2.2" fill="#50506a"/>
<circle cx="311.3" cy="233.1" r="0.92" fill="#7c7c91"/>
<circle cx="322.7" cy="233.7" r="2.53" fill="#54546c"/>
<circle cx="322.7" cy="233.7" r="1.06" fill="#7f7f93"/>
<circle cx="333.9" cy="233.7" r="2.53" fill="#2c2c3c"/>
<circle cx="333.9" cy="233.7" r="1.06" fill="#636371"/>
<circle cx="345.8" cy="233.3" r="2.2" fill="#060608"/>
<circle cx="357.5" cy="233.9" r="2.2" fill="#2c2c3c"/>
<circle cx="357.5" cy="233.9" r="0.92" fill="#636371"/>
<circle cx="368.5" cy="233.9" r="2.2" fill="#d6d6e0"/>
<circle cx="368.5" cy="233.9" r="0.92" fill="#dadae4"/>
<circle cx="264.7" cy="245.8" r="2.53" fill="#2c2c3e"/>
<circle cx="264.7" cy="245.8" r="1.06" fill="#636372"/>
<circle cx="276.5" cy="246.1" r="2.4200000000000004" fill="#1e1e2c"/>
<circle cx="276.5" cy="246.1" r="1.02" fill="#595966"/>
<circle cx="288.2" cy="245.8" r="2.4200000000000004" fill="#626278"/>
<circle cx="288.2" cy="245.8" r="1.02" fill="#89899b"/>
<circle cx="299.8" cy="246.1" r="2.75" fill="#3c3c4e"/>
<circle cx="299.8" cy="246.1" r="1.16" fill="#6e6e7e"/>
<circle cx="310.8" cy="245.8" r="2.53" fill="#444458"/>
<circle cx="310.8" cy="245.8" r="1.06" fill="#747485"/>
<circle cx="323.2" cy="245.8" r="2.53" fill="#4e4e66"/>
<circle cx="323.2" cy="245.8" r="1.06" fill="#7b7b8e"/>
<circle cx="333.9" cy="246.1" r="2.53" fill="#48485e"/>
<circle cx="333.9" cy="246.1" r="1.06" fill="#767689"/>
<circle cx="345.8" cy="246.1" r="2.4200000000000004" fill="#707088"/>
<circle cx="345.8" cy="246.1" r="1.02" fill="#9292a6"/>
<circle cx="357" cy="246.7" r="2.4200000000000004" fill="#8282a0"/>
<circle cx="357" cy="246.7" r="1.02" fill="#9f9fb7"/>
<circle cx="368.5" cy="246.1" r="2.2" fill="#dadae4"/>
<circle cx="368.5" cy="246.1" r="0.92" fill="#dddde7"/>
<circle cx="264.3" cy="258.3" r="2.4200000000000004" fill="#686880"/>
<circle cx="264.3" cy="258.3" r="1.02" fill="#8d8da1"/>
<circle cx="276.5" cy="258.7" r="2.4200000000000004" fill="#a8a8bc"/>
<circle cx="276.5" cy="258.7" r="1.02" fill="#babacb"/>
<circle cx="288.2" cy="258.1" r="2.4200000000000004" fill="#9090a8"/>
<circle cx="288.2" cy="258.1" r="1.02" fill="#a9a9bd"/>
<circle cx="310.5" cy="258.3" r="2.2" fill="#6a6a84"/>
<circle cx="310.5" cy="258.3" r="0.92" fill="#8e8ea4"/>
<circle cx="333.5" cy="258.7" r="2.4200000000000004" fill="#7a7a94"/>
<circle cx="333.5" cy="258.7" r="1.02" fill="#9a9aaf"/>
<circle cx="345.4" cy="258.7" r="2.2" fill="#a0a0b8"/>
<circle cx="345.4" cy="258.7" r="0.92" fill="#b4b4c8"/>
<circle cx="368.8" cy="258.7" r="2.4200000000000004" fill="#8888a0"/>
<circle cx="368.8" cy="258.7" r="1.02" fill="#a3a3b7"/>
<circle cx="264.9" cy="270.8" r="2.4200000000000004" fill="#a8a8c0"/>
<circle cx="264.9" cy="270.8" r="1.02" fill="#babacd"/>
<circle cx="277.4" cy="271.3" r="2.64" fill="#2e2e40"/>
<circle cx="277.4" cy="271.3" r="1.11" fill="#646474"/>
<circle cx="288.2" cy="270.8" r="2.2" fill="#d8d8e2"/>
<circle cx="288.2" cy="270.8" r="0.92" fill="#dbdbe5"/>
<circle cx="299.5" cy="270.8" r="2.53" fill="#2e2e40"/>
<circle cx="299.5" cy="270.8" r="1.06" fill="#646474"/>
<circle cx="310.8" cy="270.8" r="2.64" fill="#2e2e40"/>
<circle cx="310.8" cy="270.8" r="1.11" fill="#646474"/>
<circle cx="323.2" cy="270.5" r="2.2" fill="#dcdce6"/>
<circle cx="323.2" cy="270.5" r="0.92" fill="#dedee8"/>
<circle cx="334.2" cy="271.1" r="1.90" fill="#cbcbdb" stroke="#9797ad" stroke-width="0.95"/>
<circle cx="345.4" cy="271.1" r="2.4200000000000004" fill="#6a6a84"/>
<circle cx="345.4" cy="271.1" r="1.02" fill="#8e8ea4"/>
<circle cx="357" cy="271.3" r="1.90" fill="#d5d5e1" stroke="#c0c0d0" stroke-width="0.95"/>
<circle cx="368.5" cy="271.7" r="2.4200000000000004" fill="#5a5a78"/>
<circle cx="368.5" cy="271.7" r="1.02" fill="#83839b"/>
</g>
<rect x="259.45" y="178.2" width="115.85000000000002" height="98.60000000000002" fill="none" stroke="#141414" stroke-width="1.35"/>
<text x="281.6" y="173.95000000000002" font-size="10.3" fill="#111" text-anchor="start" textLength="71.6" lengthAdjust="spacingAndGlyphs" stroke="#111" stroke-width="0.22">Anti-A Antibody</text>
<rect x="396.2" y="177.1" width="115.40000000000003" height="99.9" fill="#e3e3ed"/>
<line x1="407.74" y1="177.1" x2="407.74" y2="277.0" stroke="#ececf4" stroke-width="2.8"/>
<line x1="419.28" y1="177.1" x2="419.28" y2="277.0" stroke="#ececf4" stroke-width="2.8"/>
<line x1="430.82" y1="177.1" x2="430.82" y2="277.0" stroke="#ececf4" stroke-width="2.8"/>
<line x1="442.36" y1="177.1" x2="442.36" y2="277.0" stroke="#ececf4" stroke-width="2.8"/>
<line x1="453.90" y1="177.1" x2="453.90" y2="277.0" stroke="#ececf4" stroke-width="2.8"/>
<line x1="465.44" y1="177.1" x2="465.44" y2="277.0" stroke="#ececf4" stroke-width="2.8"/>
<line x1="476.98" y1="177.1" x2="476.98" y2="277.0" stroke="#ececf4" stroke-width="2.8"/>
<line x1="488.52" y1="177.1" x2="488.52" y2="277.0" stroke="#ececf4" stroke-width="2.8"/>
<line x1="500.06" y1="177.1" x2="500.06" y2="277.0" stroke="#ececf4" stroke-width="2.8"/>
<line x1="396.2" y1="189.59" x2="511.6" y2="189.59" stroke="#ececf4" stroke-width="2.8"/>
<line x1="396.2" y1="202.07" x2="511.6" y2="202.07" stroke="#ececf4" stroke-width="2.8"/>
<line x1="396.2" y1="214.56" x2="511.6" y2="214.56" stroke="#ececf4" stroke-width="2.8"/>
<line x1="396.2" y1="227.05" x2="511.6" y2="227.05" stroke="#ececf4" stroke-width="2.8"/>
<line x1="396.2" y1="239.54" x2="511.6" y2="239.54" stroke="#ececf4" stroke-width="2.8"/>
<line x1="396.2" y1="252.03" x2="511.6" y2="252.03" stroke="#ececf4" stroke-width="2.8"/>
<line x1="396.2" y1="264.51" x2="511.6" y2="264.51" stroke="#ececf4" stroke-width="2.8"/>
<line x1="407.74" y1="177.1" x2="407.74" y2="277.0" stroke="#84848c" stroke-width="1.12"/>
<line x1="419.28" y1="177.1" x2="419.28" y2="277.0" stroke="#84848c" stroke-width="1.12"/>
<line x1="430.82" y1="177.1" x2="430.82" y2="277.0" stroke="#84848c" stroke-width="1.12"/>
<line x1="442.36" y1="177.1" x2="442.36" y2="277.0" stroke="#84848c" stroke-width="1.12"/>
<line x1="453.90" y1="177.1" x2="453.90" y2="277.0" stroke="#84848c" stroke-width="1.12"/>
<line x1="465.44" y1="177.1" x2="465.44" y2="277.0" stroke="#84848c" stroke-width="1.12"/>
<line x1="476.98" y1="177.1" x2="476.98" y2="277.0" stroke="#84848c" stroke-width="1.12"/>
<line x1="488.52" y1="177.1" x2="488.52" y2="277.0" stroke="#84848c" stroke-width="1.12"/>
<line x1="500.06" y1="177.1" x2="500.06" y2="277.0" stroke="#84848c" stroke-width="1.12"/>
<line x1="396.2" y1="189.59" x2="511.6" y2="189.59" stroke="#84848c" stroke-width="1.12"/>
<line x1="396.2" y1="202.07" x2="511.6" y2="202.07" stroke="#84848c" stroke-width="1.12"/>
<line x1="396.2" y1="214.56" x2="511.6" y2="214.56" stroke="#84848c" stroke-width="1.12"/>
<line x1="396.2" y1="227.05" x2="511.6" y2="227.05" stroke="#84848c" stroke-width="1.12"/>
<line x1="396.2" y1="239.54" x2="511.6" y2="239.54" stroke="#84848c" stroke-width="1.12"/>
<line x1="396.2" y1="252.03" x2="511.6" y2="252.03" stroke="#84848c" stroke-width="1.12"/>
<line x1="396.2" y1="264.51" x2="511.6" y2="264.51" stroke="#84848c" stroke-width="1.12"/>
<g filter="url(#soft)">
<circle cx="401.9" cy="208" r="2.8600000000000003" fill="#060608"/>
<circle cx="413.5" cy="208.1" r="2.9700000000000006" fill="#060608"/>
<circle cx="425" cy="207.5" r="2.64" fill="#060608"/>
<circle cx="437.1" cy="208.1" r="2.64" fill="#1e1e2c"/>
<circle cx="437.1" cy="208.1" r="1.11" fill="#595966"/>
<circle cx="449.2" cy="208.1" r="2.4200000000000004" fill="#6a6a84"/>
<circle cx="449.2" cy="208.1" r="1.02" fill="#8e8ea4"/>
<circle cx="460.2" cy="207.8" r="2.4200000000000004" fill="#707088"/>
<circle cx="460.2" cy="207.8" r="1.02" fill="#9292a6"/>
<circle cx="470.9" cy="208.1" r="2.53" fill="#1c1c26"/>
<circle cx="470.9" cy="208.1" r="1.06" fill="#585862"/>
<circle cx="483.6" cy="207.8" r="2.4200000000000004" fill="#707090"/>
<circle cx="483.6" cy="207.8" r="1.02" fill="#9292ac"/>
<circle cx="494.5" cy="207.5" r="2.4200000000000004" fill="#a0a0b8"/>
<circle cx="494.5" cy="207.5" r="1.02" fill="#b4b4c8"/>
<circle cx="506.3" cy="207.2" r="2.4200000000000004" fill="#505068"/>
<circle cx="506.3" cy="207.2" r="1.02" fill="#7c7c90"/>
<circle cx="401.7" cy="220.5" r="2.64" fill="#2e2e40"/>
<circle cx="401.7" cy="220.5" r="1.11" fill="#646474"/>
<circle cx="413.5" cy="220.5" r="1.90" fill="#cfcfde" stroke="#9e9eb4" stroke-width="0.95"/>
<circle cx="425.6" cy="220.5" r="1.90" fill="#cbcbdb" stroke="#9797ad" stroke-width="0.95"/>
<circle cx="437.9" cy="220.8" r="2.53" fill="#303048"/>
<circle cx="437.9" cy="220.8" r="1.06" fill="#66667a"/>
<circle cx="449.4" cy="221" r="2.4200000000000004" fill="#606078"/>
<circle cx="449.4" cy="221" r="1.02" fill="#87879b"/>
<circle cx="460.2" cy="221.3" r="2.2" fill="#8888a0"/>
<circle cx="460.2" cy="221.3" r="0.92" fill="#a3a3b7"/>
<circle cx="471.5" cy="221.1" r="2.53" fill="#404050"/>
<circle cx="471.5" cy="221.1" r="1.06" fill="#71717f"/>
<circle cx="483.2" cy="221.1" r="2.64" fill="#161620"/>
<circle cx="494.5" cy="220.5" r="2.8600000000000003" fill="#060608"/>
<circle cx="506.3" cy="221.1" r="2.75" fill="#1c1c26"/>
<circle cx="506.3" cy="221.1" r="1.16" fill="#585862"/>
<circle cx="402.2" cy="259" r="1.90" fill="#dfdfe9" stroke="#d8d8e4" stroke-width="0.95"/>
<circle cx="413.5" cy="259.5" r="2.12" fill="#c8c8db" stroke="#9090ad" stroke-width="0.95"/>
<circle cx="436.5" cy="259.3" r="2.12" fill="#bfbfd1" stroke="#7a7a97" stroke-width="0.95"/>
<circle cx="459.7" cy="259" r="2.45" fill="#a2a2b8" stroke="#3a3a5e" stroke-width="0.95"/>
<circle cx="494" cy="259.3" r="2.12" fill="#c2c2d5" stroke="#82829e" stroke-width="0.95"/>
<circle cx="504.9" cy="258.6" r="1.90" fill="#dbdbe7" stroke="#d0d0de" stroke-width="0.95"/>
<circle cx="413.5" cy="271.6" r="1.90" fill="#d8d8e5" stroke="#c8c8d8" stroke-width="0.95"/>
<circle cx="425.6" cy="271.6" r="2.75" fill="#060608"/>
<circle cx="436.5" cy="271.6" r="1.90" fill="#d8d8e5" stroke="#c8c8d8" stroke-width="0.95"/>
<circle cx="448.6" cy="271.6" r="1.90" fill="#d5d5e3" stroke="#c0c0d4" stroke-width="0.95"/>
<circle cx="460.2" cy="271.6" r="2.23" fill="#b5b5ce" stroke="#656590" stroke-width="0.95"/>
</g>
<rect x="396.2" y="177.1" width="115.40000000000003" height="99.9" fill="none" stroke="#141414" stroke-width="1.35"/>
<text x="418.1" y="173.95000000000002" font-size="10.3" fill="#111" text-anchor="start" textLength="71.6" lengthAdjust="spacingAndGlyphs" stroke="#111" stroke-width="0.22">Anti-B Antibody</text>
<rect x="0.6" y="0.6" width="518.8" height="312.8" fill="none" stroke="#000" stroke-width="1.25"/>
</svg>
</body></html>
